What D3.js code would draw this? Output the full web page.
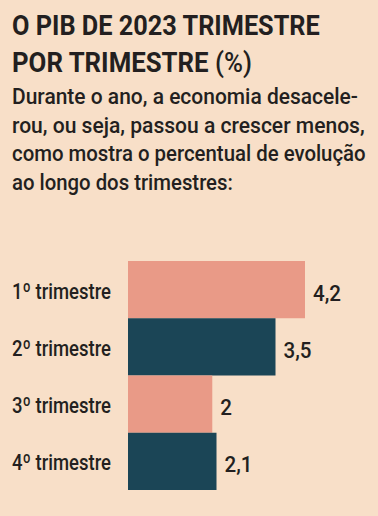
<!DOCTYPE html>
<html>
<head>
<meta charset="utf-8">
<script src="https://cdn.jsdelivr.net/npm/d3@7"></script>
<style>
  html, body { margin: 0; padding: 0; background: #F8DFC8; }
  svg { display: block; }
  text { font-family: Roboto, "Liberation Sans", sans-serif; fill: #231f20; }
</style>
</head>
<body>
<div id="chart"></div>
<script>
const titleLines = ["O PIB DE 2023 TRIMESTRE", "POR TRIMESTRE"];
const titleUnit = "(%)";
const subtitleLines = [
  "Durante o ano, a economia desacele-",
  "rou, ou seja, passou a crescer menos,",
  "como mostra o percentual de evolução",
  "ao longo dos trimestres:"
];
const categories = ["1º trimestre", "2º trimestre", "3º trimestre", "4º trimestre"];
const values = [4.2, 3.5, 2, 2.1];
const valueLabels = ["4,2", "3,5", "2", "2,1"];
const barColors = ["#E99A87", "#1B4556", "#E99A87", "#1B4556"];

const W = 378, H = 516;
const svg = d3.select("#chart").append("svg").attr("width", W).attr("height", H);
svg.append("rect").attr("width", W).attr("height", H).attr("fill", "#F8DFC8");

// squeeze a text element horizontally to a target width (condensed look)
function squeeze(node, x0, target) {
  const w = node.getComputedTextLength();
  const k = target / w;
  d3.select(node).attr("transform", `translate(${x0},0) scale(${k},1) translate(${-x0},0)`);
  return k;
}
function squeezeBy(node, x0, k) {
  d3.select(node).attr("transform", `translate(${x0},0) scale(${k},1) translate(${-x0},0)`);
}

// Title
const t1 = svg.append("text").attr("x", 12).attr("y", 35)
  .attr("font-size", 28).attr("font-weight", "bold")
  .text(titleLines[0]);
squeeze(t1.node(), 12, 308);
const t2 = svg.append("text").attr("x", 12).attr("y", 72)
  .attr("font-size", 28).attr("font-weight", "bold");
t2.append("tspan").text(titleLines[1] + " ");
t2.append("tspan").attr("font-weight", 500).text(titleUnit);
squeeze(t2.node(), 12, 240);

// Subtitle
const subWidths = [346, 353, 354, 221];
svg.append("g").selectAll("text").data(subtitleLines).join("text")
  .attr("x", 12).attr("y", (d, i) => 104 + i * 28.6)
  .attr("font-size", 22).attr("font-weight", 500)
  .text(d => d)
  .each(function(d, i) { squeeze(this, 12, subWidths[i]); });

// Chart
const x = d3.scaleLinear().domain([0, 4.2]).range([128, 305]);
const y = d3.scaleBand().domain(categories).range([261, 490]).padding(0);

svg.append("g").selectAll("rect").data(values).join("rect")
  .attr("x", x(0))
  .attr("y", (d, i) => y(categories[i]))
  .attr("width", d => x(d) - x(0))
  .attr("height", y.bandwidth())
  .attr("fill", (d, i) => barColors[i]);

const catLabels = svg.append("g").selectAll("text").data(categories).join("text")
  .attr("x", 12)
  .attr("y", d => y(d) + y.bandwidth() / 2 + 9)
  .attr("font-size", 22).attr("font-weight", 500)
  .text(d => d);
const kCat = squeeze(catLabels.nodes()[0], 12, 99);
catLabels.each(function(d, i) { if (i > 0) squeezeBy(this, 12, kCat); });

const valLabels = svg.append("g").selectAll("text").data(values).join("text")
  .attr("x", d => x(d) + 8)
  .attr("y", (d, i) => y(categories[i]) + y.bandwidth() / 2 + 11)
  .attr("font-size", 22).attr("font-weight", 500)
  .text((d, i) => valueLabels[i]);
const kVal = squeeze(valLabels.nodes()[0], x(values[0]) + 8, 28);
valLabels.each(function(d, i) { if (i > 0) squeezeBy(this, x(d) + 8, kVal); });
</script>
</body>
</html>
